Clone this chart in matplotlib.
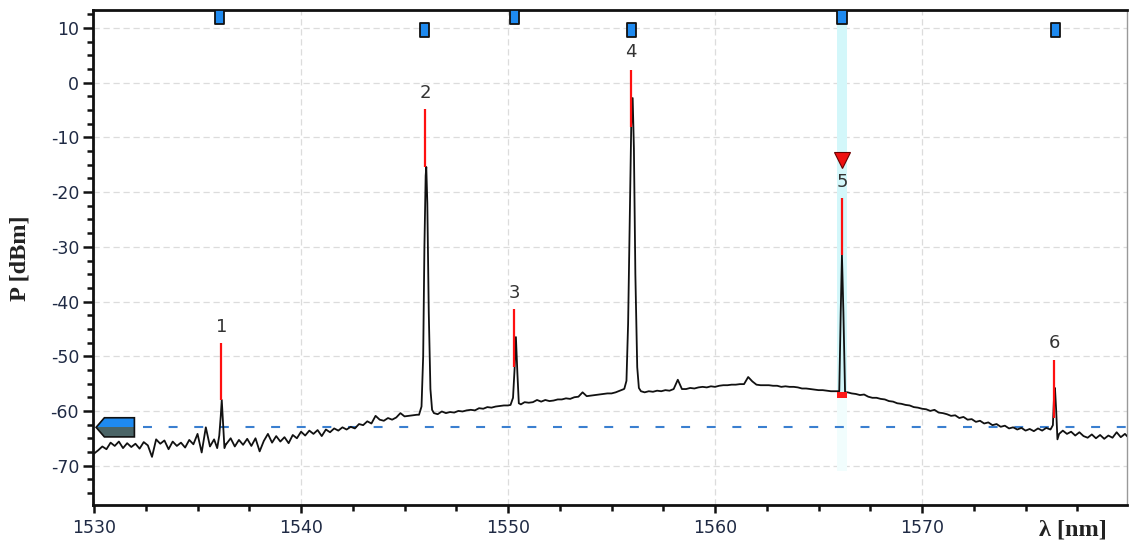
import numpy as np
import matplotlib
matplotlib.use("Agg")
import matplotlib.pyplot as plt
from matplotlib.patches import Rectangle, Polygon
from matplotlib.ticker import MultipleLocator, FixedLocator

plt.rcParams["axes.unicode_minus"] = False

# ---------------- data ----------------
base_wl = np.round(np.linspace(1530.0, 1580.0, 251), 2)
base_p = [
    -67.8, -67.2, -66.5, -67.0, -65.8, -66.4, -65.6, -66.8, -65.9, -66.6,
    -66.0, -66.9, -65.7, -66.3, -68.4, -65.2, -66.0, -65.4, -67.0, -65.6,
    -66.4, -65.8, -66.7, -65.3, -66.1, -64.2, -67.6, -63.0, -66.5, -65.2,
    -66.8, -65.9, -66.0, -65.0, -66.5, -65.3, -66.2, -65.1, -66.4, -65.0,
    -67.4, -65.5, -64.2, -65.8, -64.6, -65.6, -64.8, -65.9, -64.4, -65.0,
    -63.8, -64.5, -63.6, -64.2, -63.5, -64.6, -63.4, -63.9, -63.2, -63.6,
    -63.0, -63.4, -62.9, -63.2, -62.4, -62.6, -61.9, -62.3, -60.9, -61.6,
    -61.8, -61.3, -61.6, -61.2, -60.4, -61.0, -60.9, -60.8, -60.7, -60.6,
    -60.5, -60.4, -60.2, -60.6, -60.1, -60.4, -60.2, -60.3, -60.0, -60.1,
    -59.9, -59.8, -59.9, -59.5, -59.6, -59.3, -59.4, -59.2, -59.1, -59.0,
    -59.0, -58.9, -58.8, -58.7, -58.4, -58.5, -58.4, -58.0, -58.3, -58.0,
    -58.2, -58.1, -57.9, -57.9, -57.7, -57.8, -57.5, -57.4, -56.6, -57.3,
    -57.2, -57.1, -57.0, -56.9, -56.8, -56.8, -56.6, -56.3, -56.0, -55.9,
    -56.0, -56.2, -56.3, -56.6, -56.4, -56.5, -56.3, -56.4, -56.2, -56.3,
    -56.0, -54.3, -56.0, -56.0, -55.8, -55.9, -55.7, -55.6, -55.7, -55.5,
    -55.6, -55.4, -55.3, -55.3, -55.2, -55.2, -55.1, -55.1, -53.8, -54.6,
    -55.2, -55.3, -55.3, -55.3, -55.4, -55.4, -55.6, -55.5, -55.6, -55.6,
    -55.7, -55.9, -55.9, -56.0, -56.1, -56.2, -56.2, -56.3, -56.4, -56.4,
    -56.5, -56.6, -56.6, -56.8, -56.9, -57.1, -57.0, -57.4, -57.6, -57.6,
    -57.8, -57.9, -58.2, -58.3, -58.6, -58.7, -58.9, -59.0, -59.3, -59.4,
    -59.6, -59.7, -60.0, -59.8, -60.3, -60.4, -60.6, -60.9, -60.8, -61.3,
    -61.1, -61.6, -61.5, -62.0, -61.8, -62.3, -62.1, -62.6, -62.4, -62.9,
    -62.7, -63.2, -63.0, -63.4, -63.1, -63.6, -63.3, -63.7, -63.2, -63.6,
    -63.1, -63.4, -63.8, -64.3, -63.6, -64.2, -63.8, -64.5, -63.9, -64.6,
    -64.9, -64.3, -65.0, -64.4, -65.1, -64.5, -64.9, -63.9, -64.8, -64.2,
    -65.0,
]

peak1_wl = [1535.95, 1536.05, 1536.12, 1536.17, 1536.22, 1536.30, 1536.38]
peak1_p = [-66.8, -64.5, -61.0, -58.0, -61.5, -66.8, -66.0]
peak2_wl = [1545.70, 1545.82, 1545.90, 1545.96, 1546.02, 1546.05, 1546.10, 1546.17, 1546.25, 1546.33, 1546.42]
peak2_p = [-60.7, -59.2, -50.0, -30.0, -17.0, -15.4, -22.0, -42.0, -56.0, -59.8, -60.4]
peak3_wl = [1550.12, 1550.24, 1550.32, 1550.38, 1550.45, 1550.52, 1550.62]
peak3_p = [-58.9, -57.6, -52.0, -46.5, -53.0, -58.6, -58.8]
peak4_wl = [1555.62, 1555.72, 1555.80, 1555.88, 1555.95, 1556.02, 1556.08, 1556.15, 1556.24, 1556.32, 1556.42]
peak4_p = [-55.9, -54.5, -44.0, -25.0, -8.0, -2.8, -12.0, -35.0, -52.0, -55.8, -56.4]
peak5_wl = [1566.00, 1566.07, 1566.13, 1566.20, 1566.28]
peak5_p = [-56.4, -42.0, -31.5, -42.0, -56.6]
peak6_wl = [1576.22, 1576.32, 1576.38, 1576.42, 1576.48, 1576.54, 1576.62]
peak6_p = [-63.3, -62.6, -57.0, -55.8, -60.0, -65.2, -64.2]

marker_labels = ["1", "2", "3", "4", "5", "6"]
marker_wl = [1536.15, 1546.0, 1550.3, 1555.95, 1566.13, 1576.38]
marker_top = [-47.6, -4.8, -41.4, 2.3, -21.1, -50.7]
marker_bottom = [-58.0, -15.4, -52.0, -8.1, -31.5, -61.3]
label_p = [-44.7, -1.9, -38.4, 5.6, -18.2, -47.6]
flag_wl = [1536.05, 1545.95, 1550.3, 1555.95, 1566.13, 1576.43]
flag_p = [12.0, 9.7, 12.0, 9.7, 12.0, 9.7]

threshold = -63.0
selected = 4  # index of active marker (5)
cursor_p = -14.1
sel_floor = -57.1

# ---------------- build trace ----------------
wl = np.array(base_wl, dtype=float)
p = np.array(base_p, dtype=float)
peaks = [(peak1_wl, peak1_p), (peak2_wl, peak2_p), (peak3_wl, peak3_p),
         (peak4_wl, peak4_p), (peak5_wl, peak5_p), (peak6_wl, peak6_p)]
for pw, pp in peaks:
    keep = (wl < pw[0] - 1e-6) | (wl > pw[-1] + 1e-6)
    wl = np.concatenate([wl[keep], pw])
    p = np.concatenate([p[keep], pp])
order = np.argsort(wl)
wl, p = wl[order], p[order]

# ---------------- figure ----------------
W, H = 1129, 542
fig = plt.figure(figsize=(W / 100, H / 100), dpi=100)
ax = fig.add_axes([93 / W, 37 / H, (1127 - 93) / W, (505 - 10) / H])
xmin, xmax = 1529.95, 1579.9
ymin, ymax = -77.2, 13.3
ax.set_xlim(xmin, xmax)
ax.set_ylim(ymin, ymax)

# grid
ax.xaxis.set_major_locator(FixedLocator([1530, 1540, 1550, 1560, 1570]))
ax.xaxis.set_minor_locator(MultipleLocator(2.5))
ax.yaxis.set_major_locator(MultipleLocator(10))
ax.yaxis.set_minor_locator(MultipleLocator(2.5))
ax.grid(True, which="major", color="#dcdcdc", linestyle=(0, (5, 3)), linewidth=0.9)
ax.set_axisbelow(True)

# selected marker band
sw = marker_wl[selected]
ax.axvspan(sw - 0.25, sw + 0.25, ymin=(sel_floor - ymin) / (ymax - ymin), ymax=1,
           color="#d3f7fa", lw=0, zorder=1)
ax.axvspan(sw - 0.25, sw + 0.25, ymin=(-71 - ymin) / (ymax - ymin),
           ymax=(sel_floor - ymin) / (ymax - ymin), color="#f1fdfd", lw=0, zorder=1)

# threshold dashed line
ax.plot([xmin + 2.4, xmax], [threshold, threshold], color="#3a7fd0", lw=1.5,
        dashes=(4.3, 8.0), zorder=2)

# trace
ax.plot(wl, p, color="#111111", lw=1.3, zorder=3)

# red marker lines
ax.vlines(marker_wl, marker_bottom, marker_top, colors="#ff1010", lw=1.6, zorder=4)

# red floor square for selected marker
ax.add_patch(Rectangle((sw - 0.23, sel_floor - 0.5), 0.46, 1.0, color="#ff1a1a", lw=0, zorder=4))

# cursor triangle
ax.plot([sw], [cursor_p], marker="v", ms=12, color="#ee1111", mec="#6a0000", mew=0.8, zorder=6)

# labels
for lab, x, y in zip(marker_labels, marker_wl, label_p):
    ax.text(x, y, lab, ha="center", va="center", fontsize=13, color="#333333",
            family="DejaVu Sans", zorder=6)

# top flags
for x, y in zip(flag_wl, flag_p):
    ax.add_patch(Rectangle((x - 0.22, y - 1.25), 0.44, 2.5, facecolor="#1e8af0",
                           edgecolor="#111111", lw=1.3, joinstyle="round", zorder=7,
                           clip_on=True))

# threshold arrow on left
tip = xmin + 0.15
sh = xmin + 0.55
rt = xmin + 2.0
hh = 1.75
ax.add_patch(Polygon([(tip, threshold), (sh, threshold + hh), (rt, threshold + hh), (rt, threshold)],
                     closed=True, facecolor="#1e8af0", lw=0, zorder=7))
ax.add_patch(Polygon([(tip, threshold), (rt, threshold), (rt, threshold - hh), (sh, threshold - hh)],
                     closed=True, facecolor="#4a6466", lw=0, zorder=7))
ax.add_patch(Polygon([(tip, threshold), (sh, threshold + hh), (rt, threshold + hh),
                      (rt, threshold - hh), (sh, threshold - hh)],
                     closed=True, facecolor="none", edgecolor="#111111", lw=1.2, zorder=8))

# spines & ticks
for s in ["left", "bottom", "top"]:
    ax.spines[s].set_linewidth(2.0)
    ax.spines[s].set_color("#111111")
ax.spines["right"].set_linewidth(1.0)
ax.spines["right"].set_color("#999999")
ax.tick_params(axis="both", which="major", direction="out", width=1.8, color="#111111",
               labelsize=12.5, labelcolor="#1f2a44")
ax.tick_params(axis="y", which="major", length=7, pad=3)
ax.tick_params(axis="y", which="minor", length=4, width=1.8, color="#111111")
ax.tick_params(axis="x", which="major", length=6, pad=4)
ax.tick_params(axis="x", which="minor", length=4, width=1.8, color="#111111")
for lbl in ax.get_xticklabels() + ax.get_yticklabels():
    lbl.set_family("DejaVu Sans")

# axis titles
fig.text(20 / W, 1 - 258 / H, "P [dBm]", rotation=90, ha="center", va="center",
         fontsize=17.5, fontweight="bold", family="Liberation Serif", color="#222222")
ax.text(1577.3, -0.03, "λ [nm]", transform=ax.get_xaxis_transform(), ha="center", va="top",
        fontsize=17.5, fontweight="bold", family="Liberation Serif", color="#222222")

fig.savefig("out.png", dpi=100)
